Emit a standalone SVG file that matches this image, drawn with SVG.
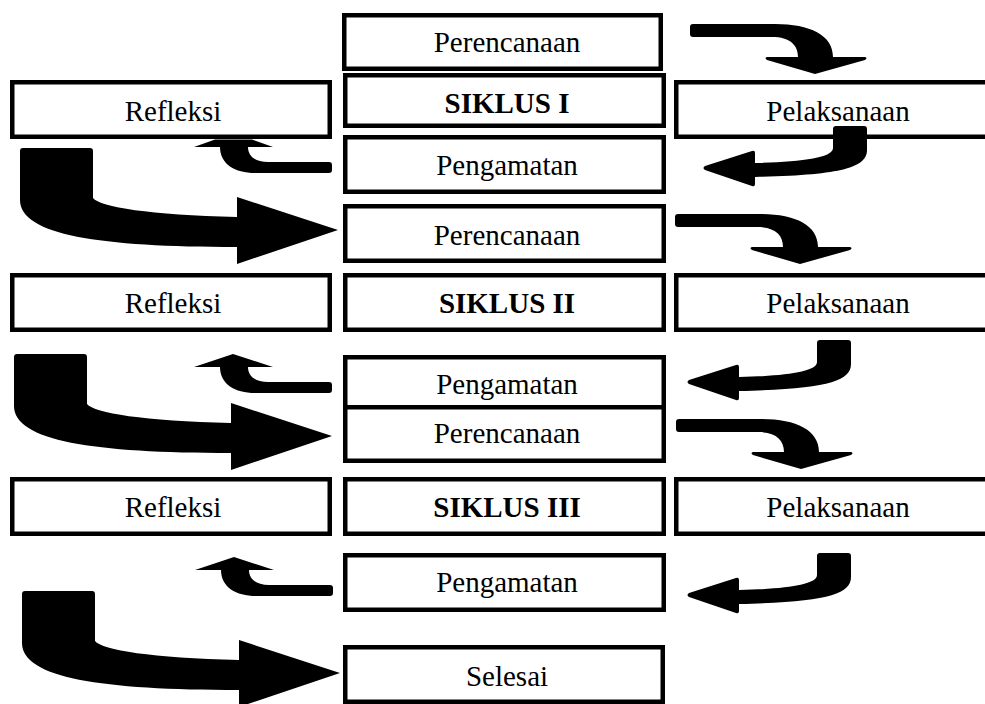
<svg xmlns="http://www.w3.org/2000/svg" xmlns:xlink="http://www.w3.org/1999/xlink" width="985" height="704" viewBox="0 0 985 704">
<style>
.box{fill:#fff;stroke:#000;stroke-width:4.5;}
.t{font-family:"Liberation Serif","Times New Roman",serif;font-size:29px;text-anchor:middle;fill:#000;}
.b{font-weight:bold;}
.arr{fill:#000;stroke:none;}
</style>
<defs>
<path id="arrA" d="M 693,24 L 775,24 C 810,24 833,35 833,57 L 865,57 Q 868,58 865,60 L 815,74 L 767,60 Q 764,58 767,57 L 798,57 C 798,45 790,37 772,37 L 693,37 Q 690,37 690,34 L 690,27 Q 690,24 693,24 Z"/>
<path id="arrB" d="M 836,126 L 864,126 Q 867,126 867,129 L 867,150 C 867,168 840,175 755,177 L 755,184 Q 755,187 752,186 L 705,170 Q 702,168 705,166 L 752,151 Q 755,150 755,153 L 755,163 C 800,162 833,158 833,148 L 833,129 Q 833,126 836,126 Z"/>
<path id="arrC" d="M 329,382 L 268,382 C 255,382 248,376 248,367 L 273,367 L 233,354 L 194,367 L 220,367 C 220,384 235,393 255,393 L 329,393 Q 332,393 332,390 L 332,385 Q 332,382 329,382 Z"/>
<path id="arrD" d="M 20,151 Q 20,148 23,148 L 90,148 Q 93,148 93,151 L 93,198 C 100,207 150,215 237,217 L 237,197 L 338,230 L 237,264 L 237,247 C 100,247 20,235 20,200 Z"/>
</defs>
<rect width="985" height="704" fill="#fff"/>
<g id="nodes">
<g id="perencanaan1"><rect class="box" x="344.25" y="15.25" width="316.5" height="53.5"/><text class="t" x="507" y="52">Perencanaan</text></g>
<g id="siklus1"><rect class="box" x="345.25" y="75.25" width="318.5" height="50.5"/><text class="t b" x="507" y="113">SIKLUS I</text></g>
<g id="refleksi1"><rect class="box" x="12.25" y="82.25" width="317.5" height="54.5"/><text class="t" x="173" y="121">Refleksi</text></g>
<g id="pelaksanaan1"><rect class="box" x="676.25" y="82.25" width="323.5" height="54.5"/><text class="t" x="838" y="121">Pelaksanaan</text></g>
<g id="pengamatan1"><rect class="box" x="345.25" y="137.25" width="318.5" height="54.5"/><text class="t" x="507" y="175">Pengamatan</text></g>
<g id="perencanaan2"><rect class="box" x="345.25" y="206.25" width="318.5" height="54.5"/><text class="t" x="507" y="245">Perencanaan</text></g>
<g id="refleksi2"><rect class="box" x="12.25" y="275.25" width="317.5" height="54.5"/><text class="t" x="173" y="313">Refleksi</text></g>
<g id="siklus2"><rect class="box" x="345.25" y="275.25" width="318.5" height="54.5"/><text class="t b" x="507" y="313">SIKLUS II</text></g>
<g id="pelaksanaan2"><rect class="box" x="676.25" y="275.25" width="323.5" height="54.5"/><text class="t" x="838" y="313">Pelaksanaan</text></g>
<g id="pengamatan2"><rect class="box" x="345.25" y="357.25" width="318.5" height="53.5"/><text class="t" x="507" y="394">Pengamatan</text></g>
<g id="perencanaan3"><rect class="box" x="345.25" y="407.25" width="318.5" height="53.5"/><text class="t" x="507" y="443">Perencanaan</text></g>
<g id="refleksi3"><rect class="box" x="12.25" y="479.25" width="317.5" height="54.5"/><text class="t" x="173" y="517">Refleksi</text></g>
<g id="siklus3"><rect class="box" x="345.25" y="479.25" width="318.5" height="54.5"/><text class="t b" x="507" y="517">SIKLUS III</text></g>
<g id="pelaksanaan3"><rect class="box" x="676.25" y="479.25" width="323.5" height="54.5"/><text class="t" x="838" y="517">Pelaksanaan</text></g>
<g id="pengamatan3"><rect class="box" x="345.25" y="555.25" width="318.5" height="54.5"/><text class="t" x="507" y="592">Pengamatan</text></g>
<g id="selesai"><rect class="box" x="345.25" y="647.25" width="317.5" height="54.5"/><text class="t" x="507" y="686">Selesai</text></g>
</g>
<g id="connectors">
<use class="arr" xlink:href="#arrA"/>
<use class="arr" xlink:href="#arrA" transform="translate(-15,190)"/>
<use class="arr" xlink:href="#arrA" transform="translate(-14,395)"/>
<use class="arr" xlink:href="#arrB"/>
<use class="arr" xlink:href="#arrB" transform="translate(-16,214)"/>
<use class="arr" xlink:href="#arrB" transform="translate(-16,427)"/>
<path class="arr" d="M 329,162 L 268,162 C 255,162 248,156 248,147 L 273,147 L 252,139.5 L 215,139.5 L 194,147 L 220,147 C 220,164 235,173 255,173 L 329,173 Q 332,173 332,170 L 332,165 Q 332,162 329,162 Z"/>
<use class="arr" xlink:href="#arrC"/>
<use class="arr" xlink:href="#arrC" transform="translate(1,203)"/>
<use class="arr" xlink:href="#arrD"/>
<use class="arr" xlink:href="#arrD" transform="translate(-6,206)"/>
<use class="arr" xlink:href="#arrD" transform="translate(2,443)"/>
</g>
</svg>
